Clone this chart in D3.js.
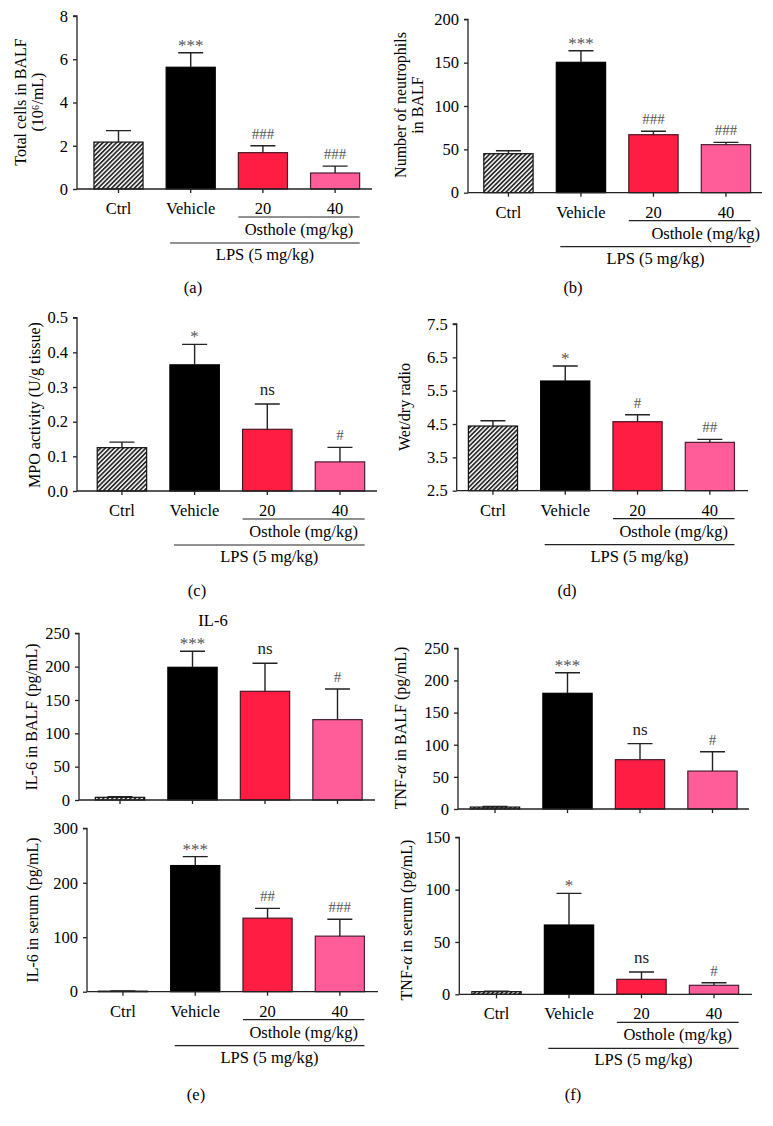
<!DOCTYPE html>
<html>
<head>
<meta charset="utf-8">
<script src="https://cdn.jsdelivr.net/npm/d3@7"></script>
<style>
  html, body { margin: 0; padding: 0; background: #fff; }
  svg { display: block; }
  svg text { font-family: "Liberation Serif", "Times New Roman", serif !important; fill: #000; }
</style>
</head>
<body>
<svg id="chart" width="773" height="1126"></svg>
<script>
// ---------- DATA ----------
const categories = ["Ctrl", "Vehicle", "20", "40"];

const totalCellsMean = [2.17, 5.63, 1.68, 0.74];
const totalCellsSem  = [0.53, 0.67, 0.32, 0.32];
const totalCellsSig  = ["", "***", "###", "###"];
const totalCellsTicks = [0, 2, 4, 6, 8];

const neutroMean = [45, 150.4, 66.9, 55.4];
const neutroSem  = [3.4, 13.4, 3.9, 2.7];
const neutroSig  = ["", "***", "###", "###"];
const neutroTicks = [0, 50, 100, 150, 200];

const mpoMean = [0.125, 0.364, 0.178, 0.084];
const mpoSem  = [0.016, 0.059, 0.073, 0.042];
const mpoSig  = ["", "*", "ns", "#"];
const mpoTicks = [0.0, 0.1, 0.2, 0.3, 0.4, 0.5];

const wetDryMean = [4.44, 5.79, 4.57, 3.95];
const wetDrySem  = [0.16, 0.45, 0.21, 0.09];
const wetDrySig  = ["", "*", "#", "##"];
const wetDryTicks = [2.5, 3.5, 4.5, 5.5, 6.5, 7.5];

const il6BalfMean = [4, 199, 163, 120.5];
const il6BalfSem  = [1, 24, 42, 46];
const il6BalfSig  = ["", "***", "ns", "#"];
const il6BalfTicks = [0, 50, 100, 150, 200, 250];

const il6SerumMean = [1, 231.6, 135, 102];
const il6SerumSem  = [0.5, 16.4, 18, 31];
const il6SerumSig  = ["", "***", "##", "###"];
const il6SerumTicks = [0, 100, 200, 300];

const tnfBalfMean = [3, 180, 76.7, 59];
const tnfBalfSem  = [1, 32, 25, 30];
const tnfBalfSig  = ["", "***", "ns", "#"];
const tnfBalfTicks = [0, 50, 100, 150, 200, 250];

const tnfSerumMean = [2.5, 66.2, 14.3, 8.6];
const tnfSerumSem  = [0.5, 30.2, 7, 2.4];
const tnfSerumSig  = ["", "*", "ns", "#"];
const tnfSerumTicks = [0, 50, 100, 150];

// ---------- STYLE ----------
const fills = ["url(#hatch)", "#000000", "#FF1D43", "#FF5D9A"];
const strokes = ["#111", "#000", "#4a1624", "#4a1e34"];
const FS = 16.5;

const svg = d3.select("#chart");
const defs = svg.append("defs");
const pat = defs.append("pattern")
  .attr("id", "hatch").attr("patternUnits", "userSpaceOnUse")
  .attr("width", 3.2).attr("height", 3.2)
  .attr("patternTransform", "rotate(45)");
pat.append("rect").attr("width", 3.2).attr("height", 3.2).attr("fill", "#fff");
pat.append("line").attr("x1", 0.8).attr("y1", 0).attr("x2", 0.8).attr("y2", 3.2)
  .attr("stroke", "#2a2a2a").attr("stroke-width", 1.9);

function drawPanel(p) {
  const g = svg.append("g");
  const x = d3.scaleBand().domain(categories).range(p.band)
    .paddingInner(0.32).paddingOuter(0.16);
  const y = d3.scaleLinear().domain([p.ticks[0], p.ticks[p.ticks.length - 1]]).range(p.yr);
  const y0 = p.yr[0];
  const data = categories.map((c, i) => ({ c, m: p.mean[i], s: p.sem[i], sig: p.sig[i], i }));

  // bars
  g.selectAll("rect.bar").data(data).join("rect")
    .attr("class", "bar")
    .attr("x", d => x(d.c)).attr("width", x.bandwidth())
    .attr("y", d => y(d.m)).attr("height", d => y0 - y(d.m))
    .attr("fill", d => fills[d.i]).attr("stroke", d => strokes[d.i]).attr("stroke-width", 1.2);

  // error bars (upper only)
  const cap = 12.5;
  g.selectAll("path.err").data(data).join("path")
    .attr("class", "err")
    .attr("d", d => {
      const cx = x(d.c) + x.bandwidth() / 2;
      const yt = y(d.m + d.s), yb = y(d.m);
      return `M${cx},${yb}V${yt}M${cx - cap},${yt}H${cx + cap}`;
    })
    .attr("fill", "none").attr("stroke", "#222").attr("stroke-width", 1.4);

  // significance marks
  g.selectAll("text.sig").data(data.filter(d => d.sig)).join("text")
    .attr("class", "sig")
    .attr("x", d => x(d.c) + x.bandwidth() / 2)
    .attr("y", d => {
      const yt = y(d.m + d.s);
      if (d.sig[0] === "*") return yt - 2;
      if (d.sig === "ns") return yt - 9;
      return yt - 7;
    })
    .attr("text-anchor", "middle")
    .style("font-size", d => (d.sig[0] === "*" ? 17 : (d.sig === "ns" ? 17 : 15)) + "px")
    .style("fill", d => d.sig === "ns" ? "#222" : "#555")
    .text(d => d.sig);

  // y axis
  const yAxis = d3.axisLeft(y).tickValues(p.ticks).tickSize(4).tickPadding(5)
    .tickFormat(p.fmt ? d3.format(p.fmt) : d3.format("d"));
  const ya = g.append("g").attr("transform", `translate(${p.axisX},0)`).call(yAxis);
  ya.attr("font-size", null).attr("font-family", null);
  ya.select(".domain").attr("stroke", "#222").attr("stroke-width", 1.3)
    .attr("d", `M-4,${p.yr[1]}H0V${y0}`);
  ya.selectAll(".tick line").attr("stroke", "#222").attr("stroke-width", 1.3);
  ya.selectAll(".tick text").style("font-size", FS + "px").style("fill", "#000");

  // x axis
  g.append("line").attr("x1", p.axisX).attr("x2", p.xEnd).attr("y1", y0).attr("y2", y0)
    .attr("stroke", "#222").attr("stroke-width", 1.3);
  g.selectAll("line.xt").data(categories).join("line").attr("class", "xt")
    .attr("x1", d => x(d) + x.bandwidth() / 2).attr("x2", d => x(d) + x.bandwidth() / 2)
    .attr("y1", y0).attr("y2", y0 + 4).attr("stroke", "#222").attr("stroke-width", 1.3);

  if (p.xlabels) {
    g.selectAll("text.xl").data(categories).join("text").attr("class", "xl")
      .attr("x", d => x(d) + x.bandwidth() / 2).attr("y", y0 + 25)
      .attr("text-anchor", "middle").style("font-size", FS + "px").text(d => d);
    const oStart = x("20"), oEnd = x("40") + x.bandwidth();
    g.append("line").attr("x1", oStart).attr("x2", oEnd).attr("y1", y0 + 28).attr("y2", y0 + 28)
      .attr("stroke", "#222").attr("stroke-width", 1.2);
    g.append("text").attr("x", (oStart + oEnd) / 2 + (p.oShift || 0)).attr("y", y0 + 46)
      .attr("text-anchor", "middle").style("font-size", FS + "px").text("Osthole (mg/kg)");
    const lStart = x("Vehicle") + 4;
    g.append("line").attr("x1", lStart).attr("x2", oEnd).attr("y1", y0 + 54).attr("y2", y0 + 54)
      .attr("stroke", "#222").attr("stroke-width", 1.2);
    g.append("text").attr("x", (lStart + oEnd) / 2).attr("y", y0 + 71)
      .attr("text-anchor", "middle").style("font-size", FS + "px").text("LPS (5 mg/kg)");
  }

  // y title
  const t = g.append("text")
    .attr("transform", `translate(${p.titleX},${p.titleY}) rotate(-90)`)
    .attr("text-anchor", "middle").style("font-size", "16px");
  p.title.forEach((line, k) => {
    const ts = t.append("tspan").attr("x", 0).attr("dy", k === 0 ? 0 : 17);
    if (Array.isArray(line)) {
      line.forEach(seg => {
        const s = ts.append("tspan").text(seg.t);
        if (seg.it) s.attr("font-style", "italic");
      });
    } else ts.text(line);
  });

  if (p.panelLabel) {
    g.append("text").attr("x", p.panelLabel[1]).attr("y", p.panelLabel[2])
      .attr("text-anchor", "middle").style("font-size", FS + "px").text(p.panelLabel[0]);
  }
}

drawPanel({ mean: totalCellsMean, sem: totalCellsSem, sig: totalCellsSig, ticks: totalCellsTicks,
  axisX: 77, xEnd: 372, band: [82.4, 371.2], yr: [189, 16], xlabels: true,
  title: ["Total cells in BALF", "(10⁶/mL)"], titleX: 26, titleY: 102, panelLabel: ["(a)", 193, 293] });

drawPanel({ mean: neutroMean, sem: neutroSem, sig: neutroSig, ticks: neutroTicks,
  axisX: 468, xEnd: 762, band: [472.2, 762.2], yr: [192.7, 19.3], xlabels: true, oShift: 16,
  title: ["Number of neutrophils", "in BALF"], titleX: 406, titleY: 105, panelLabel: ["(b)", 573, 293] });

drawPanel({ mean: mpoMean, sem: mpoSem, sig: mpoSig, ticks: mpoTicks, fmt: ".1f",
  axisX: 77, xEnd: 377, band: [85.6, 376.3], yr: [491, 317.7], xlabels: true,
  title: ["MPO activity (U/g tissue)"], titleX: 40, titleY: 405, panelLabel: ["(c)", 197, 596] });

drawPanel({ mean: wetDryMean, sem: wetDrySem, sig: wetDrySig, ticks: wetDryTicks, fmt: ".1f",
  axisX: 456.7, xEnd: 748, band: [456.8, 746], yr: [490.7, 324], xlabels: true,
  title: ["Wet/dry radio"], titleX: 410, titleY: 407, panelLabel: ["(d)", 567, 596] });

drawPanel({ mean: il6BalfMean, sem: il6BalfSem, sig: il6BalfSig, ticks: il6BalfTicks,
  axisX: 79, xEnd: 375, band: [83.75, 373.75], yr: [800, 633.3], xlabels: false,
  title: ["IL-6 in BALF (pg/mL)"], titleX: 37, titleY: 717 });

drawPanel({ mean: il6SerumMean, sem: il6SerumSem, sig: il6SerumSig, ticks: il6SerumTicks,
  axisX: 87, xEnd: 378, band: [86.8, 376], yr: [991.7, 828.3], xlabels: true,
  title: ["IL-6 in serum (pg/mL)"], titleX: 38, titleY: 910, panelLabel: ["(e)", 196, 1100] });

drawPanel({ mean: tnfBalfMean, sem: tnfBalfSem, sig: tnfBalfSig, ticks: tnfBalfTicks,
  axisX: 458, xEnd: 749, band: [458.75, 748.75], yr: [809, 648.3], xlabels: false,
  title: [[{ t: "TNF-" }, { t: "α", it: true }, { t: " in BALF (pg/mL)" }]], titleX: 406, titleY: 728 });

drawPanel({ mean: tnfSerumMean, sem: tnfSerumSem, sig: tnfSerumSig, ticks: tnfSerumTicks,
  axisX: 459.3, xEnd: 752, band: [460.25, 750.25], yr: [994.3, 837.3], xlabels: true,
  title: [[{ t: "TNF-" }, { t: "α", it: true }, { t: " in serum (pg/mL)" }]], titleX: 412, titleY: 920,
  panelLabel: ["(f)", 573, 1100] });

// IL-6 heading
svg.append("text").attr("x", 213).attr("y", 626).attr("text-anchor", "middle")
  .style("font-size", FS + "px").text("IL-6");
</script>
</body>
</html>
